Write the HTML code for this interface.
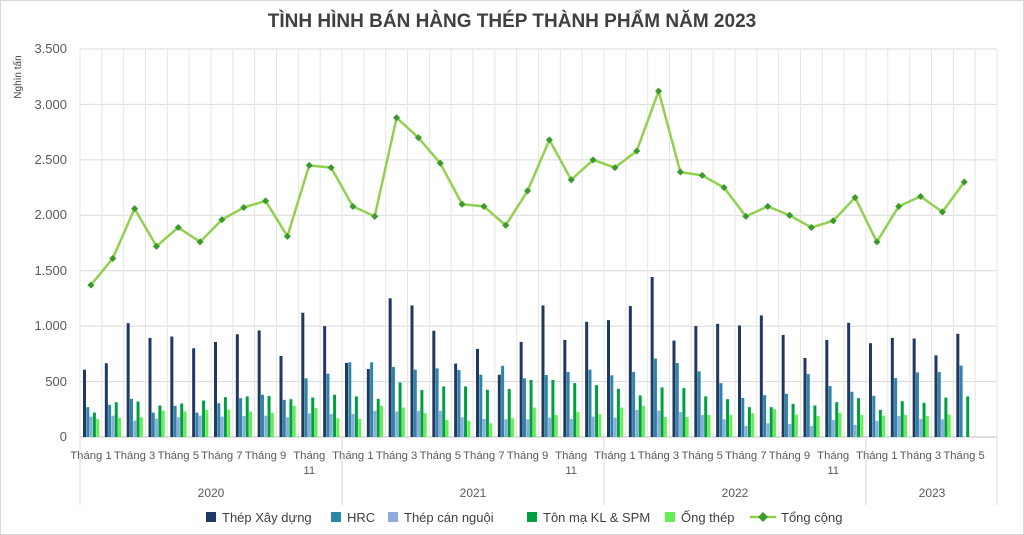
<!DOCTYPE html>
<html><head><meta charset="utf-8"><style>
html,body{margin:0;padding:0;background:#fff;}
svg{display:block;font-family:"Liberation Sans",sans-serif;}
</style></head><body>
<svg id="c" width="1024" height="535" xmlns="http://www.w3.org/2000/svg">
<rect x="0.5" y="0.5" width="1023" height="534" fill="#fff" stroke="#d9d9d9"/>
<text x="512" y="27" text-anchor="middle" font-size="19" font-weight="bold" fill="#404040">TÌNH HÌNH BÁN HÀNG THÉP THÀNH PHẨM NĂM 2023</text>
<text transform="translate(21,77) rotate(-90)" text-anchor="middle" font-size="10" fill="#404040">Nghìn tấn</text>
<g id="grid"></g>
<g font-size="13" fill="#595959" text-anchor="end">
<text x="67" y="441">0</text><text x="67" y="386">500</text><text x="67" y="330">1.000</text>
<text x="67" y="275">1.500</text><text x="67" y="219">2.000</text><text x="67" y="164">2.500</text>
<text x="67" y="109">3.000</text><text x="67" y="53">3.500</text>
</g>
<g id="bars"></g>
<g id="line"></g>
<g font-size="11.3" fill="#595959" text-anchor="middle">
<text x="91" y="459">Tháng 1</text><text x="134.6" y="459">Tháng 3</text><text x="178.3" y="459">Tháng 5</text>
<text x="221.9" y="459">Tháng 7</text><text x="265.6" y="459">Tháng 9</text><text x="309.3" y="459">Tháng</text><text x="309.3" y="474">11</text>
<text x="352.9" y="459">Tháng 1</text><text x="396.6" y="459">Tháng 3</text><text x="440.3" y="459">Tháng 5</text>
<text x="483.9" y="459">Tháng 7</text><text x="527.6" y="459">Tháng 9</text><text x="571.2" y="459">Tháng</text><text x="571.2" y="474">11</text>
<text x="614.9" y="459">Tháng 1</text><text x="658.5" y="459">Tháng 3</text><text x="702.2" y="459">Tháng 5</text>
<text x="745.9" y="459">Tháng 7</text><text x="789.5" y="459">Tháng 9</text><text x="833.2" y="459">Tháng</text><text x="833.2" y="474">11</text>
<text x="876.8" y="459">Tháng 1</text><text x="920.5" y="459">Tháng 3</text><text x="964.1" y="459">Tháng 5</text>
</g>
<g font-size="12" fill="#595959" text-anchor="middle">
<text x="211" y="497">2020</text><text x="473" y="497">2021</text><text x="735" y="497">2022</text><text x="932" y="497">2023</text>
</g>
<g stroke="#d9d9d9" stroke-width="1">
<line x1="80" y1="437" x2="80" y2="505"/><line x1="342" y1="437" x2="342" y2="505"/>
<line x1="604" y1="437" x2="604" y2="505"/><line x1="866" y1="437" x2="866" y2="505"/>
<line x1="997" y1="437" x2="997" y2="505"/>
</g>
<g font-size="13" fill="#404040">
<rect x="206" y="512" width="10" height="10" fill="#1f3864"/><text x="222" y="522">Thép Xây dựng</text>
<rect x="331" y="512" width="10" height="10" fill="#2e86a6"/><text x="347" y="522">HRC</text>
<rect x="388" y="512" width="10" height="10" fill="#8faadc"/><text x="404" y="522">Thép cán nguội</text>
<rect x="527" y="512" width="10" height="10" fill="#00a040"/><text x="543" y="522">Tôn mạ KL &amp; SPM</text>
<rect x="665" y="512" width="10" height="10" fill="#66ee55"/><text x="681" y="522">Ống thép</text>
<line x1="750" y1="517" x2="776" y2="517" stroke="#92d050" stroke-width="2.5"/>
<rect x="759.5" y="513.5" width="7" height="7" fill="#3a9a2a" transform="rotate(45 763 517)"/>
<text x="781" y="522">Tổng cộng</text>
</g>
</svg>
<script>
var ns="http://www.w3.org/2000/svg";
function el(p,t,a){var e=document.createElementNS(ns,t);for(var k in a)e.setAttribute(k,a[k]);p.appendChild(e);return e;}
var X0=80,W=21.833,Y0=437,S=388/3500;
function y(v){return Y0-v*S;}
var g=document.getElementById('grid');
for(var i=1;i<=7;i++)el(g,'line',{x1:80,x2:997,y1:y(i*500),y2:y(i*500),stroke:'#d9d9d9'});
for(var k=0;k<=42;k++){var x=X0+k*W;el(g,'line',{x1:x,x2:x,y1:49,y2:437,stroke:'#e6e6e6'});}
el(g,'line',{x1:80,x2:997,y1:437,y2:437,stroke:'#bfbfbf'});
var B=[[607,269,184,220,163],[665,290,193,314,172],[1027,344,148,320,178],[894,220,166,284,239],[906,281,178,302,230],[800,220,193,329,245],[858,305,184,360,248],[927,350,190,366,230],[961,381,193,369,218],[731,335,178,341,281],[1121,529,214,356,263],[1000,571,208,381,169],
[668,674,208,366,163],[613,674,236,344,281],[1251,631,230,492,266],[1187,607,236,423,214],[958,619,236,456,154],[662,604,178,456,145],[795,562,163,426,124],[562,643,160,432,169],[858,529,160,514,266],[1187,559,175,514,199],[876,586,163,486,224],[1039,607,184,468,205],
[1054,556,175,435,266],[1181,586,245,375,281],[1443,707,239,447,181],[870,668,224,441,181],[1000,592,199,366,199],[1021,486,160,341,199],[1006,353,100,269,214],[1097,378,124,269,251],[921,390,118,299,202],[713,568,100,284,190],[876,459,154,314,218],[1030,408,109,350,199],
[846,372,145,245,193],[894,532,190,323,199],[888,583,163,308,190],[737,586,160,356,202],[931,644,0,366,0]];
var C=['#1f3864','#2e86a6','#8faadc','#00a040','#66ee55'];
var bg=document.getElementById('bars');
B.forEach(function(r,k){r.forEach(function(v,i){if(!v)return;var x=X0+k*W+3+i*3.3;el(bg,'rect',{x:x,y:y(v),width:3,height:v*S,fill:C[i]});});});
var T=[1370,1610,2060,1720,1890,1760,1960,2070,2130,1810,2450,2430,2080,1990,2880,2700,2470,2100,2080,1910,2220,2680,2320,2500,2430,2580,3120,2390,2360,2250,1990,2080,2000,1890,1950,2160,1760,2080,2170,2030,2300];
var lg=document.getElementById('line');
var pts=T.map(function(v,k){return (X0+(k+0.5)*W).toFixed(1)+','+y(v).toFixed(1);}).join(' ');
el(lg,'polyline',{points:pts,fill:'none',stroke:'#92d050','stroke-width':2.5,'stroke-linejoin':'round'});
T.forEach(function(v,k){var cx=X0+(k+0.5)*W,cy=y(v);el(lg,'rect',{x:cx-2.5,y:cy-2.5,width:5,height:5,fill:'#3a9a2a',transform:'rotate(45 '+cx+' '+cy+')'});});
</script>
</body></html>
